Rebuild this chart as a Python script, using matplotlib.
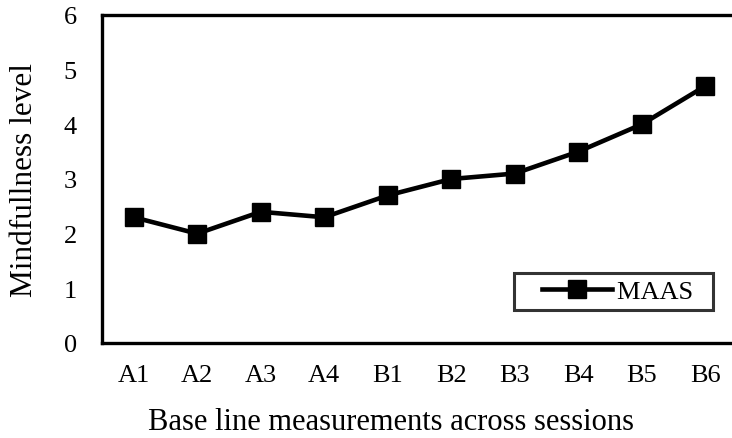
import matplotlib
matplotlib.use("Agg")
import matplotlib.pyplot as plt
from matplotlib.legend_handler import HandlerLine2D

categories = ["A1", "A2", "A3", "A4", "B1", "B2", "B3", "B4", "B5", "B6"]
maas = [2.3, 2.0, 2.4, 2.3, 2.7, 3.0, 3.1, 3.5, 4.0, 4.7]
yticks = [0, 1, 2, 3, 4, 5, 6]

plt.rcParams['font.family'] = ['Liberation Serif', 'DejaVu Serif']

W, H = 732, 439
fig = plt.figure(figsize=(W / 100, H / 100), dpi=100)
left, right, top, bottom = 102, 737, 16, 344
ax = fig.add_axes([left / W, (H - bottom) / H, (right - left) / W, (bottom - top) / H])

x = list(range(len(categories)))
line, = ax.plot(x, maas, color='black', linewidth=3.3, marker='s', markersize=12.5, label='MAAS  ')

ax.set_xlim(-0.5, len(categories) - 0.5)
ax.set_ylim(0, 6)
ax.set_xticks(x)
ax.set_xticklabels(categories)
ax.set_yticks(yticks)
ax.tick_params(axis='both', length=0, labelsize=19)
ax.tick_params(axis='x', pad=15)
ax.tick_params(axis='y', pad=18)

for s in ['left', 'top', 'bottom', 'right']:
    ax.spines[s].set_linewidth(2.4)
    ax.spines[s].set_color('black')

ax.set_ylabel('Mindfullness level', fontsize=22.5)
ax.yaxis.set_label_coords((39 - left) / (right - left), 0.5)
ax.set_xlabel('Base line measurements across sessions', fontsize=22)
ax.xaxis.set_label_coords((391 - left) / (right - left), (344 - 408) / (bottom - top))

leg = ax.legend(loc='lower right', bbox_to_anchor=((713 - left) / (right - left), (344 - 311) / (bottom - top)),
                fontsize=19, frameon=True, fancybox=False, borderpad=0.25, handlelength=3.46,
                handletextpad=0.19, borderaxespad=0,
                handler_map={line: HandlerLine2D(xpad=0.81)})
leg.get_frame().set_edgecolor('black')
leg.get_frame().set_linewidth(2.2)

fig.savefig('out.png', dpi=100)
